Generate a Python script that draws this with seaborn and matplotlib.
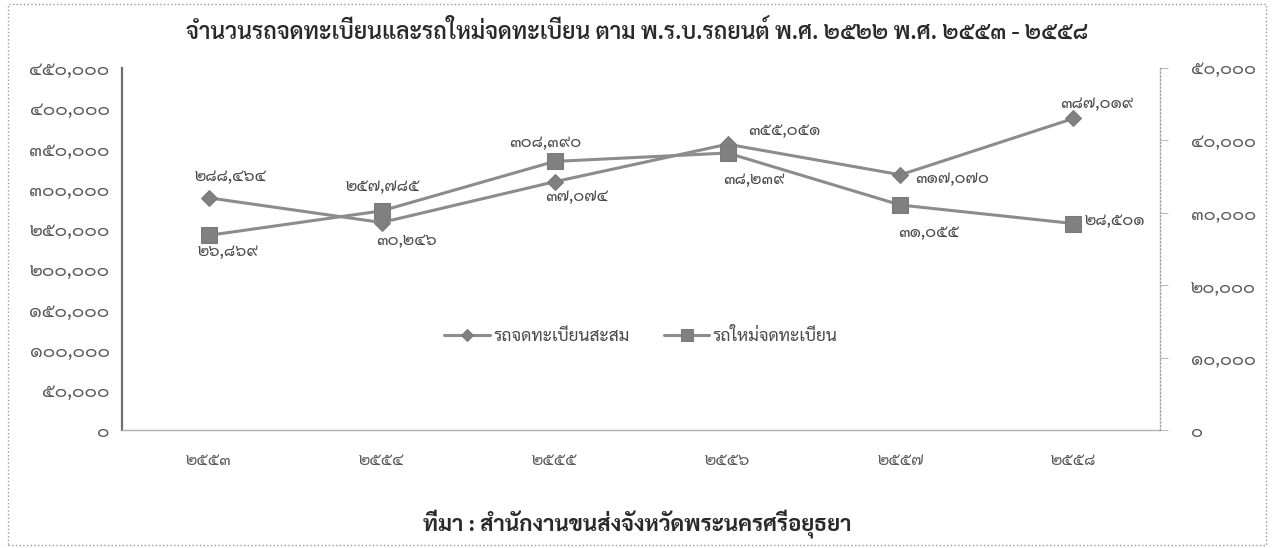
import matplotlib
matplotlib.use('Agg')
import matplotlib.pyplot as plt
import matplotlib.patches as mpatches
import pandas as pd
import seaborn as sns

# Data
years = ['๒๕๕๓', '๒๕๕๔', '๒๕๕๕', '๒๕๕๖', '๒๕๕๗', '๒๕๕๘']
total_cars = [288464, 257785, 308390, 355051, 317070, 387019]
new_cars = [26869, 30246, 37074, 38239, 31055, 28501]
total_labels = ['๒๘๘,๔๖๔', '๒๕๗,๗๘๕', '๓๐๘,๓๙๐', '๓๕๕,๐๕๑', '๓๑๗,๐๗๐', '๓๘๗,๐๑๙']
new_labels = ['๒๖,๘๖๙', '๓๐,๒๔๖', '๓๗,๐๗๔', '๓๘,๒๓๙', '๓๑,๐๕๕', '๒๘,๕๐๑']
left_ticks = ['๐', '๕๐,๐๐๐', '๑๐๐,๐๐๐', '๑๕๐,๐๐๐', '๒๐๐,๐๐๐', '๒๕๐,๐๐๐',
              '๓๐๐,๐๐๐', '๓๕๐,๐๐๐', '๔๐๐,๐๐๐', '๔๕๐,๐๐๐']
right_ticks = ['๐', '๑๐,๐๐๐', '๒๐,๐๐๐', '๓๐,๐๐๐', '๔๐,๐๐๐', '๕๐,๐๐๐']
series_names = ['รถจดทะเบียนสะสม', 'รถใหม่จดทะเบียน']
title = 'จำนวนรถจดทะเบียนและรถใหม่จดทะเบียน ตาม พ.ร.บ.รถยนต์ พ.ศ. ๒๕๒๒ พ.ศ. ๒๕๕๓ - ๒๕๕๘'
source = 'ที่มา : สำนักงานขนส่งจังหวัดพระนครศรีอยุธยา'

sns.set_style('white')
plt.rcParams['font.family'] = ['Sarabun', 'DejaVu Sans']

df = pd.DataFrame({'pos': range(len(years)), 'total': total_cars, 'new': new_cars})

fig = plt.figure(figsize=(12.74, 5.48), dpi=100)
ax = fig.add_axes([0.0958, 0.2153, 0.8147, 0.661])
ax2 = ax.twinx()

line_col = '#8c8c8c'
sns.lineplot(x='pos', y='total', data=df, ax=ax, color=line_col, lw=2.2,
             marker='D', markersize=8, markeredgecolor='#7a7a7a', markerfacecolor='#808080',
             label=series_names[0], legend=False)
sns.lineplot(x='pos', y='new', data=df, ax=ax2, color=line_col, lw=2.2,
             marker='s', markersize=11, markeredgecolor='#7a7a7a', markerfacecolor='#808080',
             label=series_names[1], legend=False)

ax.set_xlim(-0.5, len(years) - 0.5)
ax.set_ylim(0, 450000)
ax2.set_ylim(0, 50000)
ax.set_yticks(range(0, 450001, 50000))
ax.set_yticklabels(left_ticks)
ax2.set_yticks(range(0, 50001, 10000))
ax2.set_yticklabels(right_ticks)
ax.set_xticks(range(len(years)))
ax.set_xticklabels(years)
ax.set_xlabel('')
ax.set_ylabel('')
ax2.set_ylabel('')

tick_col = '#5a5a5a'
ax.tick_params(axis='y', length=0, pad=9, labelsize=13.5, labelcolor=tick_col)
ax.tick_params(axis='x', length=0, pad=16, labelsize=12, labelcolor=tick_col)
ax2.tick_params(axis='y', length=6, width=0.6, color='#aaaaaa', pad=16, labelsize=13, labelcolor=tick_col)

for a in (ax, ax2):
    for s in a.spines.values():
        s.set_visible(False)
ax.spines['left'].set_visible(True)
ax.spines['left'].set_color('#6e6e6e')
ax.spines['left'].set_linewidth(1.6)
ax.spines['bottom'].set_visible(True)
ax.spines['bottom'].set_color('#b0b0b0')
ax.spines['bottom'].set_linewidth(1.0)
ax2.spines['right'].set_visible(True)
ax2.spines['right'].set_color('#a0a0a0')
ax2.spines['right'].set_linestyle(':')
ax2.spines['right'].set_linewidth(1.0)

# data labels, offsets (points) as placed in the original
total_off = [(16, 15), (1, 26), (-7, 28), (41, 10), (37, -3), (17, 11)]
new_off = [(14, -12), (18, -21), (16, -25), (19, -19), (20, -20), (30, 2)]
lab_col = '#4a4a4a'
for i in range(len(years)):
    ax.annotate(total_labels[i], (i, total_cars[i]), xytext=total_off[i],
                textcoords='offset points', ha='center', va='center',
                fontsize=12, color=lab_col)
    ax2.annotate(new_labels[i], (i, new_cars[i]), xytext=new_off[i],
                 textcoords='offset points', ha='center', va='center',
                 fontsize=12, color=lab_col)

# legend
h1, l1 = ax.get_legend_handles_labels()
h2, l2 = ax2.get_legend_handles_labels()
ax2.legend(h1 + h2, l1 + l2, loc='center', bbox_to_anchor=(0.5, 0.257), ncol=2,
           frameon=False, fontsize=12.5, handlelength=2.6, handletextpad=0.2,
           columnspacing=2.0, markerscale=0.75, labelcolor='#4a4a4a')

fig.text(0.5, 0.942, title, ha='center', va='center', fontsize=16.5,
         fontweight='semibold', color='#2a2a2a')
fig.text(0.5, 0.045, source, ha='center', va='center', fontsize=16,
         fontweight='bold', color='#2a2a2a')

# dotted frame around the whole chart
fig.patches.append(mpatches.Rectangle((0.006, 0.006), 0.988, 0.986, transform=fig.transFigure,
                                      fill=False, ls=':', lw=1.0, ec='#9a9a9a'))

fig.savefig('out.png', dpi=100)
